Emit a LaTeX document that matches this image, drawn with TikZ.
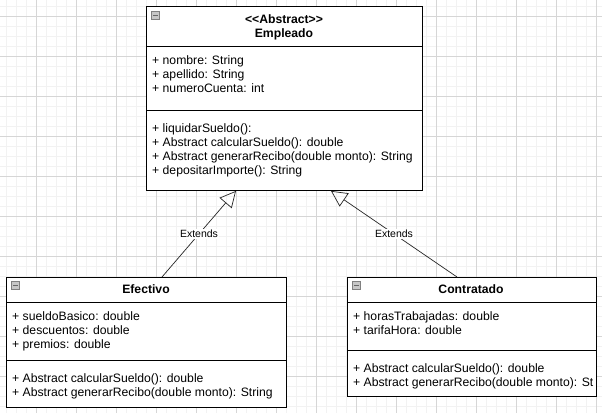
\documentclass[tikz,border=0pt]{standalone}
\usepackage{fontspec}
\setmainfont{Liberation Sans}
\usetikzlibrary{arrows.meta}

\tikzset{
  minorgrid/.style={draw=black!5, line width=0.8pt},
  majorgrid/.style={draw=black!16, line width=0.8pt},
  classbox/.style={draw, line width=0.9pt, fill=white, anchor=north west, inner sep=0pt},
  classname/.style={align=center, inner sep=0pt, font=\fontsize{12.2}{14}\selectfont\bfseries},
  members/.style={anchor=north west, align=left, inner sep=0pt, font=\fontsize{12.2}{14}\selectfont},
  collapse/.style={draw=black!50, fill=black!22, line width=0.6pt, anchor=north west, minimum size=8pt, inner sep=0pt},
  extends/.style={draw=black!85, line width=0.7pt, -{Triangle[open, length=16pt, width=16pt]}},
  lbl/.style={fill=white, inner sep=1pt, font=\fontsize{10.5}{12}\selectfont}
}

\begin{document}
\begin{tikzpicture}[x=1pt, y=-1pt]
\useasboundingbox (0,0) rectangle (602,413);
\fill[white] (0,0) rectangle (602,413);
\foreach \x in {6,16,...,596} \draw[minorgrid] (\x,0) -- (\x,413);
\foreach \y in {6,16,...,406} \draw[minorgrid] (0,\y) -- (602,\y);
\foreach \x in {36,76,...,596} \draw[majorgrid] (\x,0) -- (\x,413);
\foreach \y in {16,56,...,376} \draw[majorgrid] (0,\y) -- (602,\y);

\node[classbox, minimum width=276pt, minimum height=184pt] (emp) at (146,6) {};
\draw ([yshift=-40pt]emp.north west) -- ([yshift=-40pt]emp.north east);
\draw ([yshift=-104pt]emp.north west) -- ([yshift=-104pt]emp.north east);
\node[collapse] (empicon) at (151,11) {};
\draw[black!60] ([xshift=2pt]empicon.west) -- ([xshift=-2pt]empicon.east);
\node[classname] (empname) at (284,27) {{<}{<}Abstract{>}{>}\\Empleado};
\node[members] (empattr) at (152,55) {+ nombre: String\\+ apellido: String\\+ numeroCuenta: int};
\node[members] (empops) at (152,123) {+ liquidarSueldo():\\+ Abstract calcularSueldo(): double\\+ Abstract generarRecibo(double monto): String\\+ depositarImporte(): String};

\node[classbox, minimum width=280pt, minimum height=130pt] (efe) at (6,277) {};
\draw ([yshift=-25pt]efe.north west) -- ([yshift=-25pt]efe.north east);
\draw ([yshift=-83pt]efe.north west) -- ([yshift=-83pt]efe.north east);
\node[collapse] (efeicon) at (11,281) {};
\draw[black!60] ([xshift=2pt]efeicon.west) -- ([xshift=-2pt]efeicon.east);
\node[classname] (efename) at (146,289) {Efectivo};
\node[members] (efeattr) at (12,311) {+ sueldoBasico: double\\+ descuentos: double\\+ premios: double};
\node[members] (efeops) at (12,373) {+ Abstract calcularSueldo(): double\\+ Abstract generarRecibo(double monto): String};

\node[classbox, minimum width=249pt, minimum height=119pt] (con) at (347,277) {};
\draw ([yshift=-25pt]con.north west) -- ([yshift=-25pt]con.north east);
\draw ([yshift=-73pt]con.north west) -- ([yshift=-73pt]con.north east);
\node[collapse] (conicon) at (352,281) {};
\draw[black!60] ([xshift=2pt]conicon.west) -- ([xshift=-2pt]conicon.east);
\node[classname] (conname) at (471,289) {Contratado};
\node[members] (conattr) at (353,311) {+ horasTrabajadas: double\\+ tarifaHora: double};
\node[members] (conops) at (353,363) {+ Abstract calcularSueldo(): double\\+ Abstract generarRecibo(double monto): St};

\draw[extends] ([xshift=156pt]efe.north west) -- node[lbl] {Extends} ([xshift=90pt]emp.south west);
\draw[extends] ([xshift=110pt]con.north west) -- node[lbl] {Extends} ([xshift=185pt]emp.south west);
\end{tikzpicture}
\end{document}
